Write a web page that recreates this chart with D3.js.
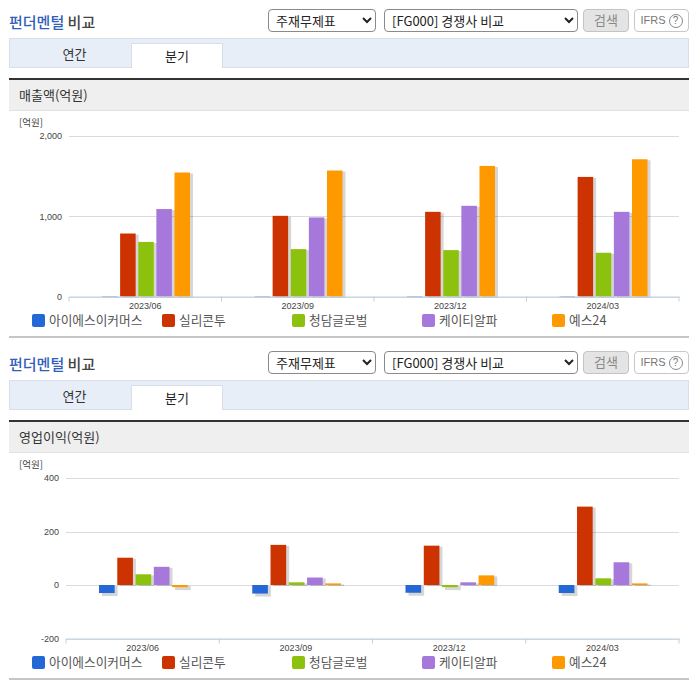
<!DOCTYPE html>
<html>

<head>
    <meta charset="UTF-8" />
    <script src="https://cdn.jsdelivr.net/npm/d3@7"></script>
    <style>
        html, body { margin: 0; padding: 0; background: #fff; }
        body { width: 696px; height: 684px; position: relative; overflow: hidden; font-family: "Noto Sans CJK KR", sans-serif; }
        .abs { position: absolute; box-sizing: border-box; }
        select { font-family: "Noto Sans CJK KR", sans-serif; font-size: 13px; color: #222; background: #fff; border: 1px solid #8a8a8a; border-radius: 4px; padding-left: 3px; }
        svg { position: absolute; left: 0; top: 0; }
    </style>
</head>

<body>
    <script>
        const quarters = ['2023/06', '2023/09', '2023/12', '2024/03'];
        const companies = ['아이에스이커머스', '실리콘투', '청담글로벌', '케이티알파', '예스24'];
        const colors = ['#2468d8', '#cc3300', '#8cc10e', '#a678dc', '#ff9900'];

        // one row per company, one value per quarter (억원)
        const sales = [
            [5, 5, 5, 5],
            [785, 1005, 1055, 1490],
            [680, 590, 578, 545],
            [1090, 985, 1130, 1055],
            [1545, 1570, 1627, 1710],
        ];
        const profit = [
            [-30, -32, -29, -30],
            [102, 150, 147, 293],
            [40, 10, -8, 25],
            [68, 28, 10, 85],
            [-8, 6, 36, 6],
        ];
        const salesTicks = [0, 1000, 2000];
        const profitTicks = [-200, 0, 200, 400];

        const svg = d3.select('body').append('svg').attr('width', 696).attr('height', 684);

        function box(x, y, w, h, css, text) {
            return d3.select('body').append('div').attr('class', 'abs')
                .style('left', x + 'px').style('top', y + 'px')
                .style('width', w + 'px').style('height', h + 'px')
                .attr('style', function () { return this.getAttribute('style') + ';' + css; })
                .html(text || '');
        }

        function drawPanel(top, title, values, ticks, domain, xLeft, yTop, yBottom, xLabelY) {
            // header
            box(9, top + 12, 100, 20, 'font-size:15px;line-height:20px;font-weight:500;color:#444',
                '<span style="color:#3160b8">펀더멘털</span> 비교');
            const s1 = d3.select('body').append('select').attr('class', 'abs')
                .style('left', '268px').style('top', (top + 9) + 'px').style('width', '108px').style('height', '23px');
            s1.append('option').text('주재무제표');
            const s2 = d3.select('body').append('select').attr('class', 'abs')
                .style('left', '384px').style('top', (top + 9) + 'px').style('width', '194px').style('height', '23px');
            s2.append('option').text('[FG000] 경쟁사 비교');
            box(583, top + 9, 46, 23, 'background:#e4e4e4;border:1px solid #c4c4c4;border-radius:4px;font-size:13px;line-height:20px;text-align:center;color:#888', '검색');
            box(634, top + 9, 55, 23, 'background:#fff;border:1px solid #c8c8c8;border-radius:4px;font:11px/21px \'Liberation Sans\',sans-serif;text-align:center;color:#777',
                'IFRS <span style="display:inline-block;width:12px;height:12px;border:1px solid #888;border-radius:50%;line-height:12px;font-size:10px">?</span>');

            // tabs
            box(9, top + 38, 680, 30, 'background:#e8eef7;border:1px solid #d8dfe9');
            box(10, top + 39, 129, 28, 'font-size:13px;line-height:29px;text-align:center;color:#333', '연간');
            box(131, top + 43, 92, 25, 'background:#fff;border:1px solid #d8dfe9;border-bottom:none;font-size:13px;line-height:24px;text-align:center;color:#222', '분기');

            // section band
            box(9, top + 78, 680, 33, 'background:#efefef;border-top:2px solid #333;border-bottom:1px solid #e2e2e2;font-size:13px;line-height:30px;padding-left:10px;color:#333', title);
            box(9, top + 336, 680, 2, 'background:#c6c6c6');

            const xRight = 679;
            const x0 = d3.scaleBand().domain(quarters).range([xLeft, xRight]);
            const x1 = d3.scaleBand().domain(d3.range(companies.length))
                .range([33, x0.bandwidth() - 31.5]).paddingInner(0.144).paddingOuter(0);
            const y = d3.scaleLinear().domain(domain).range([yBottom, yTop]);

            const g = svg.append('g');

            g.append('text').attr('x', 19).attr('y', top + 126).attr('font-size', 9.5).attr('fill', '#444').text('[억원]');

            // grid and y labels
            const yAxis = g.append('g').attr('transform', `translate(${xLeft},0)`)
                .call(d3.axisLeft(y).tickValues(ticks).tickSize(-(xRight - xLeft)).tickPadding(7)
                    .tickFormat(d => d3.format(',')(d).replace('−', '-')));
            yAxis.select('.domain').remove();
            yAxis.selectAll('line').attr('stroke', '#d8dce2').attr('shape-rendering', 'crispEdges');
            yAxis.selectAll('text').attr('font-family', 'Liberation Sans, sans-serif').attr('font-size', 9).attr('fill', '#444');

            // bars with their soft shadow
            values.forEach((row, c) => {
                const bars = g.append('g');
                bars.selectAll('rect.shadow').data(row).join('rect')
                    .attr('class', 'shadow')
                    .attr('x', (d, i) => x0(quarters[i]) + x1(c) + 3)
                    .attr('y', d => Math.min(y(d), y(0)) + 1)
                    .attr('width', x1.bandwidth())
                    .attr('height', d => Math.abs(y(d) - y(0)) + (d < 0 ? 2 : 0))
                    .attr('fill', '#000').attr('opacity', 0.16);
                bars.selectAll('rect.bar').data(row).join('rect')
                    .attr('class', 'bar')
                    .attr('x', (d, i) => x0(quarters[i]) + x1(c))
                    .attr('y', d => Math.min(y(d), y(0)))
                    .attr('width', x1.bandwidth())
                    .attr('height', d => Math.abs(y(d) - y(0)))
                    .attr('fill', colors[c]);
            });

            // x axis at the bottom of the plot
            const xAxis = g.append('g').attr('transform', `translate(0,${yBottom})`)
                .call(d3.axisBottom(x0).tickSize(0).tickPadding(xLabelY - yBottom - 4));
            xAxis.select('.domain').attr('stroke', '#c0d0e0');
            xAxis.selectAll('text').attr('font-family', 'Liberation Sans, sans-serif').attr('font-size', 9).attr('fill', '#444');
            g.append('g').selectAll('line').data(d3.range(quarters.length + 1)).join('line')
                .attr('x1', i => xLeft + i * x0.bandwidth()).attr('x2', i => xLeft + i * x0.bandwidth())
                .attr('y1', yBottom).attr('y2', yBottom + 5)
                .attr('stroke', '#c0d0e0');

            // legend
            const legend = g.append('g').selectAll('g').data(companies).join('g')
                .attr('transform', (d, i) => `translate(${32 + i * 130},${top + 314})`);
            legend.append('rect').attr('width', 13).attr('height', 13).attr('rx', 2)
                .attr('fill', (d, i) => colors[i]);
            legend.append('text').attr('x', 17).attr('y', 11).attr('font-size', 12.7).attr('fill', '#555').text(d => d);
        }

        drawPanel(0, '매출액(억원)', sales, salesTicks, [0, 2000], 69, 136, 296.5, 307);
        drawPanel(342, '영업이익(억원)', profit, profitTicks, [-200, 400], 66, 478, 638.5, 649);
    </script>
</body>

</html>
